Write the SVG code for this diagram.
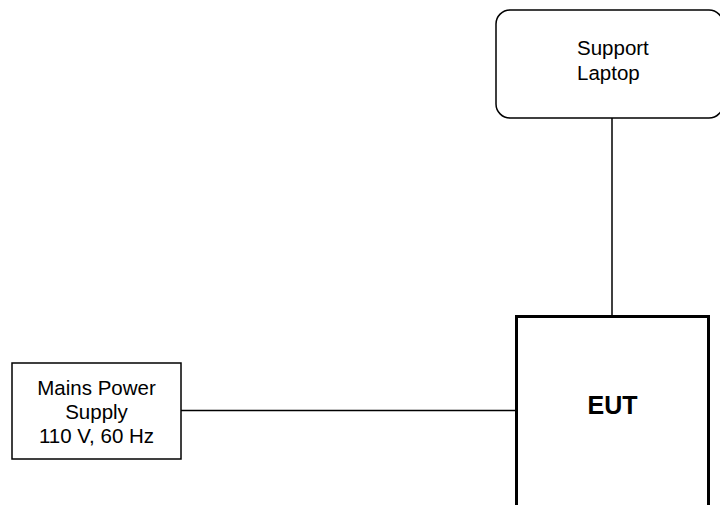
<svg xmlns="http://www.w3.org/2000/svg" width="720" height="505" viewBox="0 0 720 505">
<style>
text{font-family:"Liberation Sans",Arial,sans-serif;font-size:20.5px;fill:#000}
.box{fill:#fff;stroke:#000;stroke-width:1.5}
.line{stroke:#000;stroke-width:1.5;fill:none}
</style>
<rect width="720" height="505" fill="#fff"/>
<g id="connectors">
<line class="line" x1="612" y1="118" x2="612" y2="316"/>
<line class="line" x1="181" y1="410.5" x2="516" y2="410.5"/>
</g>
<g id="laptop">
<rect class="box" x="496" y="10" width="227" height="108" rx="14"/>
<text x="577" y="55">Support</text>
<text x="577" y="80">Laptop</text>
</g>
<g id="mains">
<rect class="box" x="12" y="363" width="169" height="96"/>
<text x="96.5" y="395" text-anchor="middle">Mains Power</text>
<text x="96.5" y="419" text-anchor="middle">Supply</text>
<text x="96.5" y="443" text-anchor="middle">110 V, 60 Hz</text>
</g>
<g id="eut">
<rect x="516.5" y="316.5" width="192" height="200" fill="#fff" stroke="#000" stroke-width="3"/>
<text x="612.5" y="414" text-anchor="middle" font-weight="bold" style="font-size:25px">EUT</text>
</g>
</svg>
